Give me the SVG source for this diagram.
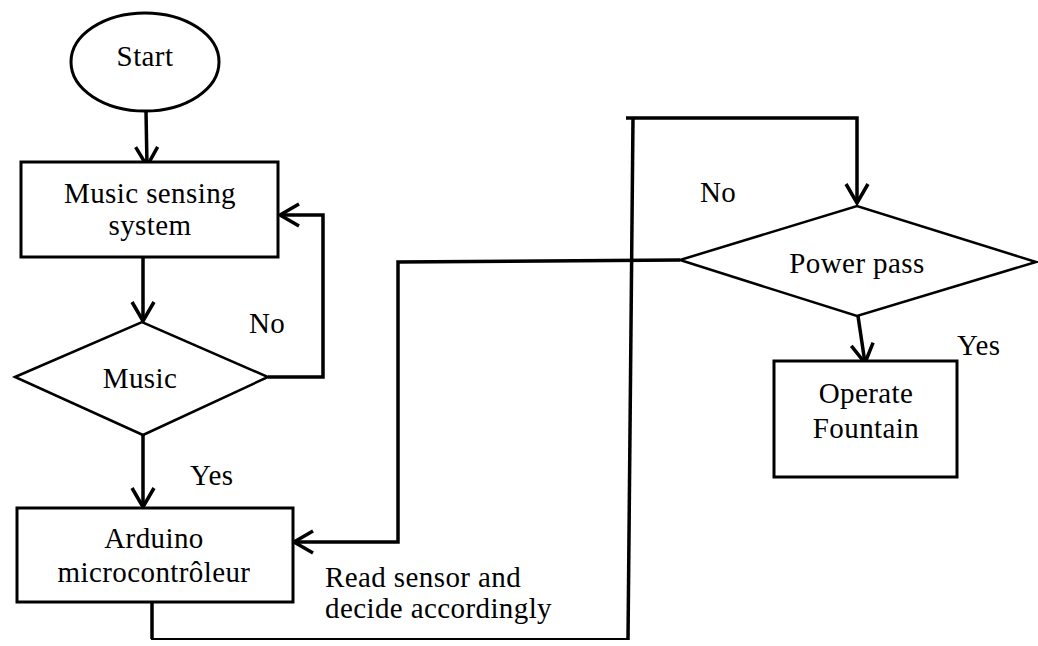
<svg xmlns="http://www.w3.org/2000/svg" width="1038" height="646" viewBox="0 0 1038 646">
<style>
.shape{fill:#fff;stroke:#000;stroke-width:3}
.dia{fill:#fff;stroke:#000;stroke-width:2.5}
.conn{fill:none;stroke:#000;stroke-width:3.5}
.thin{fill:none;stroke:#000;stroke-width:2}
text{font-family:"Liberation Serif","Times New Roman",serif;font-size:29px;letter-spacing:0.4px;fill:#000}
.c{text-anchor:middle}
</style>
<defs>
<marker id="arr" markerUnits="userSpaceOnUse" viewBox="0 0 26 26" markerWidth="26" markerHeight="26" refX="22" refY="13" orient="auto">
<path d="M3,2 L22,13 L3,24" fill="none" stroke="#000" stroke-width="3.5"/>
</marker>
</defs>
<rect width="1038" height="646" fill="#fff"/>
<g id="connectors">
<path class="conn" d="M146,111 L147,166" marker-end="url(#arr)"/>
<path class="conn" d="M143,257 L143,321" marker-end="url(#arr)"/>
<path class="conn" d="M268,377 L323,377 L323,215 L280,215" marker-end="url(#arr)"/>
<path class="conn" d="M143,435 L143,507" marker-end="url(#arr)"/>
<path class="conn" d="M680,260 L398,262 L398,542 L294,542" marker-end="url(#arr)"/>
<path class="conn" d="M152,602 L152,639"/>
<path class="thin" d="M151,639 L629,639"/>
<path class="conn" d="M628,640 L633,118"/>
<path class="conn" d="M626,118 L857,118 L857,203" marker-end="url(#arr)"/>
<path class="conn" d="M858,316 L865,363" marker-end="url(#arr)"/>
</g>
<g id="start">
<ellipse class="shape" cx="145" cy="62" rx="74" ry="49"/>
<text class="c" x="145" y="66">Start</text>
</g>
<g id="music-sensing">
<rect class="shape" x="21" y="162" width="257" height="95"/>
<text class="c" x="150" y="203">Music sensing</text>
<text class="c" x="150" y="235">system</text>
</g>
<g id="music">
<polygon class="dia" points="15,377 142,322 268,377 143,435"/>
<text class="c" x="140" y="388">Music</text>
</g>
<g id="label-no-1"><text x="249" y="333">No</text></g>
<g id="label-yes-1"><text x="190" y="485">Yes</text></g>
<g id="arduino">
<rect class="shape" x="17" y="508" width="276" height="94"/>
<text class="c" x="154" y="548">Arduino</text>
<text class="c" x="154" y="582">microcontrôleur</text>
</g>
<g id="label-read">
<text x="325" y="587">Read sensor and</text>
<text x="325" y="618">decide accordingly</text>
</g>
<g id="label-no-2"><text x="700" y="202">No</text></g>
<g id="power-pass">
<polygon class="dia" points="680,260 857,206 1036,262 857,316"/>
<text class="c" x="857" y="273">Power pass</text>
</g>
<g id="label-yes-2"><text x="957" y="355">Yes</text></g>
<g id="operate-fountain">
<rect class="shape" x="774" y="361" width="183" height="116"/>
<text class="c" x="866" y="403">Operate</text>
<text class="c" x="866" y="438">Fountain</text>
</g>
</svg>
